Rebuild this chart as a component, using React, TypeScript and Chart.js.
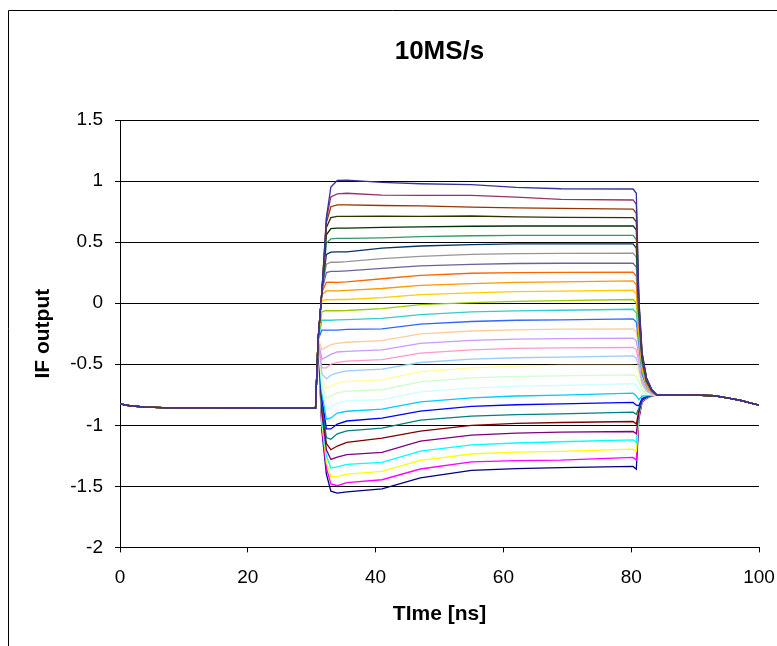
import { useEffect, useRef } from "react";
import { Chart, registerables } from "chart.js";

Chart.register(...registerables);

const chartTitle = "10MS/s";
const xTitle = "TIme [ns]";
const yTitle = "IF output";

const xTicks = { min: 0, max: 100, step: 20 };
const yTicks = { min: -2, max: 1.5, step: 0.5 };

// Shared part before the pulse (all series overlap here)
const preT = [0, 1.5, 4, 8, 15, 22, 28, 30.6];
const preY = [-0.825, -0.84, -0.852, -0.857, -0.858, -0.86, -0.86, -0.86];

// Sample times inside and around the pulse
const pulseT = [31.0, 31.6, 32.3, 33.0, 34.0, 35.5, 41, 47, 55, 62, 69, 80.3, 80.8, 81.2, 81.7, 82.4, 83.2];

// Shared settling part after the pulse
const postT = [84.0, 86, 90, 93, 95, 97, 100];
const postY = [-0.752, -0.752, -0.753, -0.758, -0.775, -0.795, -0.835];

// Series, from the lowest plateau to the highest
const s01 = [-0.30, -1.05, -1.40, -1.54, -1.555, -1.545, -1.52, -1.43, -1.37, -1.355, -1.347, -1.337, -1.36, -0.95, -0.81, -0.78, -0.76];
const s02 = [-0.30, -1.02, -1.35, -1.48, -1.495, -1.47, -1.446, -1.358, -1.30, -1.29, -1.285, -1.263, -1.285, -0.93, -0.805, -0.778, -0.76];
const s03 = [-0.30, -0.98, -1.30, -1.42, -1.42, -1.40, -1.378, -1.287, -1.235, -1.22, -1.214, -1.195, -1.215, -0.91, -0.80, -0.776, -0.758];
const s04 = [-0.30, -0.94, -1.25, -1.35, -1.34, -1.32, -1.304, -1.211, -1.16, -1.145, -1.135, -1.119, -1.14, -0.90, -0.80, -0.774, -0.758];
const s05 = [-0.30, -0.90, -1.20, -1.28, -1.26, -1.24, -1.222, -1.129, -1.08, -1.065, -1.056, -1.051, -1.07, -0.89, -0.795, -0.772, -0.756];
const s06 = [-0.30, -0.86, -1.15, -1.20, -1.17, -1.14, -1.105, -1.047, -1.00, -0.985, -0.977, -0.969, -0.99, -0.88, -0.79, -0.77, -0.756];
const s07 = [-0.30, -0.82, -1.10, -1.115, -1.07, -1.045, -1.023, -0.957, -0.925, -0.912, -0.906, -0.892, -0.91, -0.86, -0.785, -0.768, -0.755];
const s08 = [-0.30, -0.78, -1.03, -1.03, -0.99, -0.965, -0.941, -0.884, -0.845, -0.832, -0.824, -0.813, -0.835, -0.84, -0.78, -0.765, -0.754];
const s09 = [-0.30, -0.74, -0.95, -0.94, -0.90, -0.885, -0.868, -0.808, -0.775, -0.760, -0.753, -0.737, -0.76, -0.79, -0.76, -0.758, -0.752];
const s10 = [-0.30, -0.70, -0.87, -0.85, -0.82, -0.80, -0.791, -0.726, -0.695, -0.680, -0.674, -0.66, -0.67, -0.71, -0.735, -0.748, -0.75];
const s11 = [-0.30, -0.66, -0.78, -0.76, -0.735, -0.72, -0.709, -0.644, -0.612, -0.60, -0.595, -0.587, -0.60, -0.64, -0.71, -0.74, -0.748];
const s12 = [-0.30, -0.62, -0.70, -0.68, -0.655, -0.64, -0.628, -0.562, -0.530, -0.515, -0.510, -0.51, -0.525, -0.58, -0.685, -0.73, -0.745];
const s13 = [-0.30, -0.58, -0.62, -0.59, -0.57, -0.555, -0.54, -0.486, -0.458, -0.447, -0.442, -0.431, -0.45, -0.53, -0.66, -0.72, -0.742];
const s14 = [-0.30, -0.53, -0.53, -0.50, -0.485, -0.475, -0.463, -0.409, -0.382, -0.370, -0.366, -0.363, -0.38, -0.48, -0.64, -0.71, -0.74];
const s15 = [-0.30, -0.46, -0.44, -0.42, -0.40, -0.395, -0.382, -0.330, -0.305, -0.295, -0.290, -0.286, -0.31, -0.43, -0.62, -0.70, -0.738];
const s16 = [-0.28, -0.38, -0.36, -0.34, -0.33, -0.32, -0.306, -0.251, -0.228, -0.218, -0.213, -0.21, -0.235, -0.38, -0.60, -0.69, -0.735];
const s17 = [-0.30, -0.22, -0.22, -0.22, -0.22, -0.215, -0.21, -0.172, -0.150, -0.140, -0.136, -0.128, -0.155, -0.33, -0.58, -0.68, -0.732];
const s18 = [-0.30, -0.14, -0.14, -0.14, -0.137, -0.135, -0.125, -0.093, -0.072, -0.063, -0.058, -0.05, -0.08, -0.29, -0.56, -0.675, -0.73];
const s19 = [-0.30, -0.07, -0.06, -0.062, -0.062, -0.06, -0.045, -0.012, 0.005, 0.015, 0.021, 0.03, 0.0, -0.25, -0.54, -0.67, -0.728];
const s20 = [-0.30, 0.02, 0.03, 0.028, 0.03, 0.03, 0.045, 0.070, 0.085, 0.095, 0.098, 0.106, 0.075, -0.21, -0.52, -0.665, -0.726];
const s21 = [-0.30, 0.07, 0.10, 0.10, 0.10, 0.105, 0.12, 0.146, 0.160, 0.170, 0.174, 0.182, 0.15, -0.18, -0.50, -0.66, -0.724];
const s22 = [-0.30, 0.09, 0.17, 0.172, 0.17, 0.175, 0.20, 0.228, 0.245, 0.250, 0.253, 0.254, 0.22, -0.15, -0.49, -0.655, -0.722];
const s23 = [-0.30, 0.10, 0.25, 0.26, 0.26, 0.265, 0.285, 0.305, 0.318, 0.325, 0.327, 0.327, 0.295, -0.12, -0.48, -0.65, -0.72];
const s24 = [-0.30, 0.10, 0.32, 0.336, 0.335, 0.34, 0.365, 0.384, 0.400, 0.405, 0.408, 0.409, 0.375, -0.10, -0.47, -0.645, -0.718];
const s25 = [-0.30, 0.10, 0.40, 0.418, 0.42, 0.42, 0.45, 0.468, 0.480, 0.485, 0.485, 0.485, 0.45, -0.08, -0.46, -0.64, -0.716];
const s26 = [-0.30, 0.10, 0.49, 0.527, 0.53, 0.53, 0.535, 0.545, 0.552, 0.556, 0.556, 0.556, 0.52, -0.06, -0.45, -0.635, -0.714];
const s27 = [-0.30, 0.10, 0.56, 0.61, 0.615, 0.615, 0.62, 0.624, 0.630, 0.632, 0.632, 0.633, 0.60, -0.04, -0.44, -0.63, -0.712];
const s28 = [-0.30, 0.10, 0.62, 0.70, 0.71, 0.71, 0.712, 0.711, 0.714, 0.706, 0.703, 0.70, 0.665, -0.02, -0.43, -0.625, -0.71];
const s29 = [-0.30, 0.10, 0.66, 0.79, 0.805, 0.805, 0.80, 0.796, 0.787, 0.780, 0.776, 0.77, 0.735, 0.0, -0.42, -0.62, -0.708];
const s30 = [-0.30, 0.10, 0.69, 0.87, 0.895, 0.90, 0.885, 0.883, 0.883, 0.869, 0.850, 0.845, 0.81, 0.02, -0.41, -0.615, -0.706];
const s31 = [-0.30, 0.10, 0.70, 0.95, 1.005, 1.008, 0.99, 0.978, 0.970, 0.948, 0.937, 0.935, 0.90, 0.04, -0.40, -0.61, -0.704];

const seriesList = [s01, s02, s03, s04, s05, s06, s07, s08, s09, s10, s11, s12, s13, s14, s15, s16,
  s17, s18, s19, s20, s21, s22, s23, s24, s25, s26, s27, s28, s29, s30, s31];

const seriesColors = [
  "#000080", "#FF00FF", "#FFFF00", "#00FFFF", "#800080", "#800000", "#008080", "#0000FF",
  "#00CCFF", "#CCFFFF", "#CCFFCC", "#FFFF99", "#99CCFF", "#FF99CC", "#CC99FF", "#FFCC99",
  "#3366FF", "#33CCCC", "#99CC00", "#FFCC00", "#FF9900", "#FF6600", "#666699", "#969696",
  "#003366", "#339966", "#003300", "#333300", "#993300", "#993366", "#333399",
];

const FONT = '"Liberation Sans", Arial, Helvetica, sans-serif';
const W = 777;
const H = 646;

const decorations = {
  id: "decorations",
  afterDraw(chart: any) {
    const { ctx, chartArea } = chart;
    ctx.save();
    ctx.strokeStyle = "#000";
    ctx.lineWidth = 1;
    ctx.beginPath();
    ctx.moveTo(8.5, H);
    ctx.lineTo(8.5, 10.5);
    ctx.lineTo(W, 10.5);
    ctx.stroke();

    const cx = (chartArea.left + chartArea.right) / 2;
    const cy = (chartArea.top + chartArea.bottom) / 2;
    ctx.fillStyle = "#000";
    ctx.textAlign = "center";
    ctx.textBaseline = "middle";
    ctx.font = `bold 26px ${FONT}`;
    ctx.fillText(chartTitle, cx, 52);
    ctx.font = `bold 21px ${FONT}`;
    ctx.fillText(xTitle, cx, 614);
    ctx.translate(43, cy);
    ctx.rotate(-Math.PI / 2);
    ctx.fillText(yTitle, 0, 0);
    ctx.restore();
  },
};

export default function App() {
  const ref = useRef<HTMLCanvasElement>(null);

  useEffect(() => {
    if (!ref.current) return;
    const datasets = seriesList
      .map((vals, i) => ({
        label: `Series ${i + 1}`,
        data: [
          ...preT.map((t, k) => ({ x: t, y: preY[k] })),
          ...pulseT.map((t, k) => ({ x: t, y: vals[k] })),
          ...postT.map((t, k) => ({ x: t, y: postY[k] })),
        ],
        borderColor: seriesColors[i],
        backgroundColor: seriesColors[i],
        borderWidth: 1.3,
        pointRadius: 0,
        tension: 0,
        fill: false,
      }))
      .reverse();

    const chart = new Chart(ref.current, {
      type: "line",
      data: { datasets },
      options: {
        responsive: false,
        animation: false,
        devicePixelRatio: 1,
        layout: { padding: { top: 120, left: 50, right: 18, bottom: 38.6 } },
        plugins: {
          legend: { display: false },
          title: { display: false },
          tooltip: { enabled: false },
        },
        scales: {
          x: {
            type: "linear",
            min: xTicks.min,
            max: xTicks.max,
            ticks: {
              stepSize: xTicks.step,
              color: "#000",
              font: { family: FONT, size: 19 },
              padding: 14,
              maxRotation: 0,
            },
            grid: { drawOnChartArea: false, drawTicks: true, tickLength: 5, color: "#000" },
            border: { display: true, color: "#000", width: 1 },
            afterFit: (s: any) => {
              s.height = 60;
              s.paddingLeft = 0;
              s.paddingRight = 0;
            },
          },
          y: {
            type: "linear",
            min: yTicks.min,
            max: yTicks.max,
            ticks: {
              stepSize: yTicks.step,
              color: "#000",
              font: { family: FONT, size: 19 },
              padding: 12,
              callback: (v: any) => String(Number(v)),
            },
            grid: { drawTicks: true, tickLength: 5, color: "#000" },
            border: { display: true, color: "#000", width: 1 },
            afterFit: (s: any) => {
              s.width = 70;
              s.paddingTop = 0;
              s.paddingBottom = 0;
            },
          },
        },
      },
      plugins: [decorations],
    });
    return () => chart.destroy();
  }, []);

  return (
    <div style={{ position: "fixed", left: 0, top: 0, width: W, height: H, background: "#fff" }}>
      <canvas ref={ref} width={W} height={H} style={{ width: W, height: H, display: "block" }} />
    </div>
  );
}
